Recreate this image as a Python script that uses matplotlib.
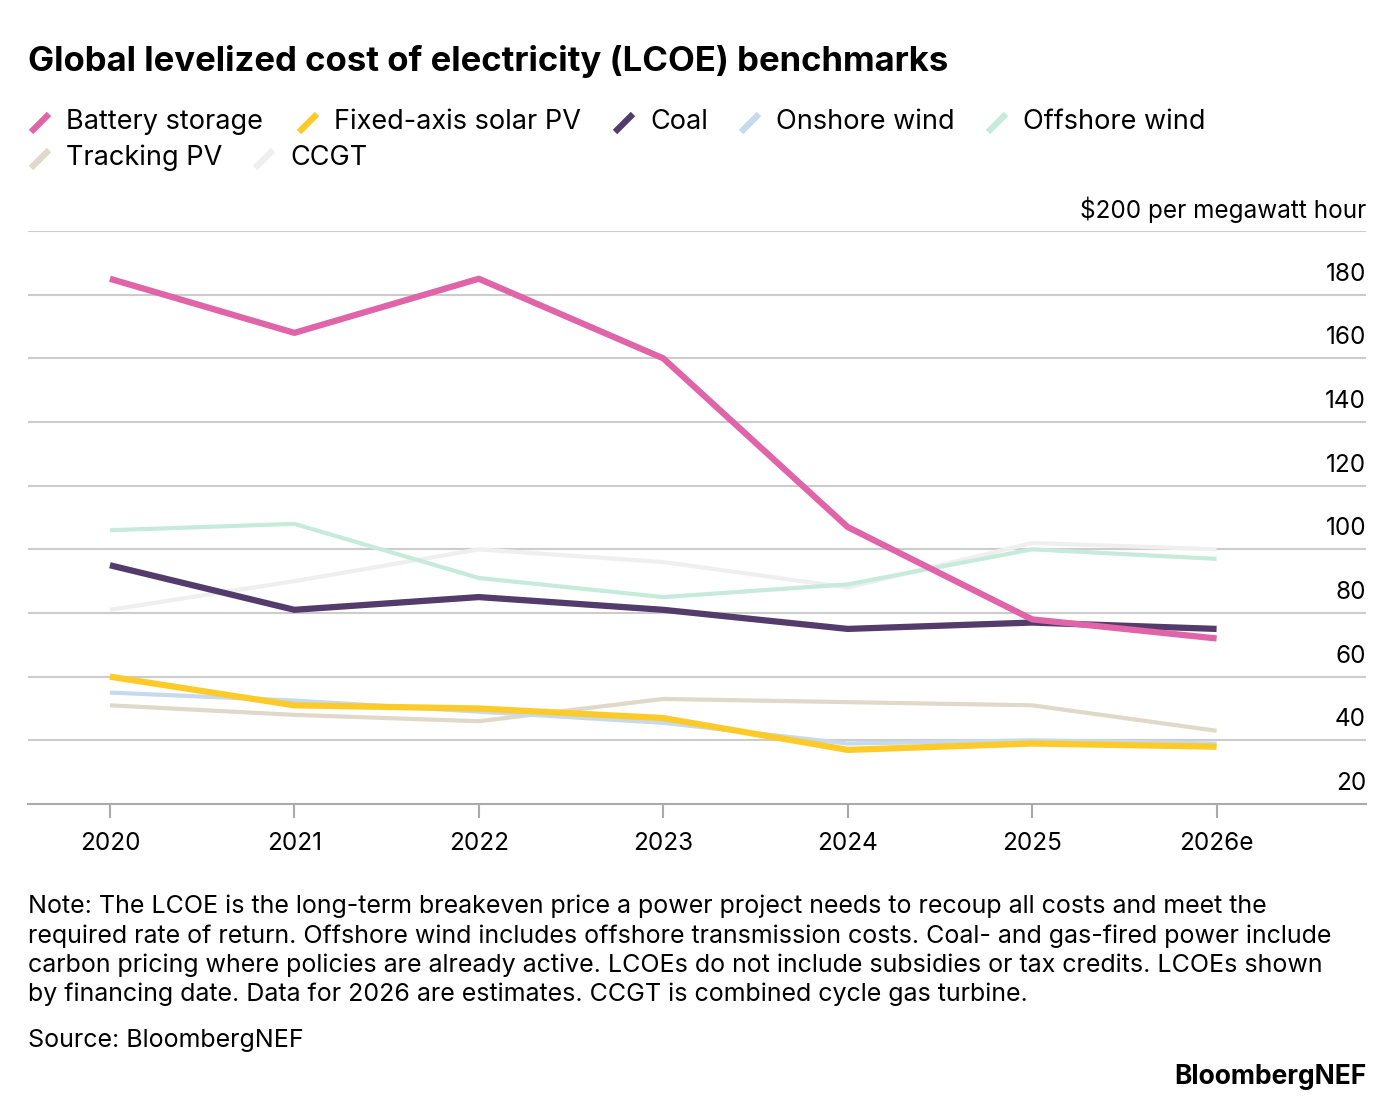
import matplotlib
matplotlib.use("Agg")
import matplotlib.pyplot as plt

years = ["2020", "2021", "2022", "2023", "2024", "2025", "2026e"]
battery = [185, 168, 185, 160, 107, 78, 72]
solar = [60, 51, 50, 47, 37, 39, 38]
coal = [95, 81, 85, 81, 75, 77, 75]
onshore = [55, 52.5, 49, 45.5, 39, 40, 39]
offshore = [106, 108, 91, 85, 89, 100, 97]
tracking = [51, 48, 46, 53, 52, 51, 43]
ccgt = [81, 90, 100, 96, 88, 102, 100]
yticks = [20, 40, 60, 80, 100, 120, 140, 160, 180]

plt.rcParams['font.family'] = ['Inter', 'DejaVu Sans']
fig = plt.figure(figsize=(13.96, 11.2), dpi=100)
W, H = 1396, 1120
ax = fig.add_axes([28/W, 1-804/H, (1366-28)/W, (804-231)/H])
x = list(range(len(years)))
series = [
    ("CCGT", ccgt, "#efefef", 3),
    ("Tracking PV", tracking, "#e0d8c8", 3),
    ("Offshore wind", offshore, "#c6ebdd", 3),
    ("Onshore wind", onshore, "#c5daee", 3),
    ("Coal", coal, "#533b6b", 4.5),
    ("Fixed-axis solar PV", solar, "#fccb2a", 4.5),
    ("Battery storage", battery, "#e064a8", 4.5),
]
for name, vals, c, lw in series:
    ax.plot(x, vals, color=c, lw=lw, solid_capstyle='butt', zorder=3)
ax.set_xlim(-0.444, 6.81)
ax.set_ylim(20, 200)
for v in yticks[1:] + [200]:
    ax.axhline(v, color="#cccccc", lw=1.5, zorder=1)
for v in yticks:
    ax.text(6.81, v + 2.8, str(v), ha='right', va='bottom', fontsize=17.5)
ax.text(6.81, 202.5, "$200 per megawatt hour", ha='right', va='bottom', fontsize=17.5)
for s in ['top', 'right', 'left']:
    ax.spines[s].set_visible(False)
ax.spines['bottom'].set_color('#aaaaaa')
ax.spines['bottom'].set_linewidth(1.5)
ax.set_yticks([])
ax.set_xticks(x)
ax.set_xticklabels(years, fontsize=17.5)
ax.tick_params(axis='x', length=10, width=1.5, color='#aaaaaa', pad=10)

fig.text(28/W, 1-62/H, "Global levelized cost of electricity (LCOE) benchmarks",
         fontsize=25, fontweight='bold', va='center')
legend = [("Battery storage", "#e064a8", 28, 122), ("Fixed-axis solar PV", "#fccb2a", 296, 122),
          ("Coal", "#533b6b", 612, 122), ("Onshore wind", "#c5daee", 738, 122),
          ("Offshore wind", "#c6ebdd", 985, 122), ("Tracking PV", "#e0d8c8", 28, 158),
          ("CCGT", "#efefef", 252, 158)]
for name, c, px, py in legend:
    fig.add_artist(plt.Line2D([(px+3)/W, (px+21)/W], [1-(py+10)/H, 1-(py-8)/H],
                              color=c, lw=4.5, solid_capstyle='butt'))
    fig.text((px+38)/W, 1-py/H, name, fontsize=19.5, va='center')
note = ("Note: The LCOE is the long-term breakeven price a power project needs to recoup all costs and meet the\n"
        "required rate of return. Offshore wind includes offshore transmission costs. Coal- and gas-fired power include\n"
        "carbon pricing where policies are already active. LCOEs do not include subsidies or tax credits. LCOEs shown\n"
        "by financing date. Data for 2026 are estimates. CCGT is combined cycle gas turbine.")
fig.text(28/W, 1-895/H, note, fontsize=18, va='top', linespacing=1.3)
fig.text(28/W, 1-1041/H, "Source: BloombergNEF", fontsize=18, va='center')
fig.text(1366/W, 1-1077/H, "BloombergNEF", fontsize=19, fontweight='bold', ha='right', va='center')
fig.savefig("out.png", dpi=100, facecolor='white')
